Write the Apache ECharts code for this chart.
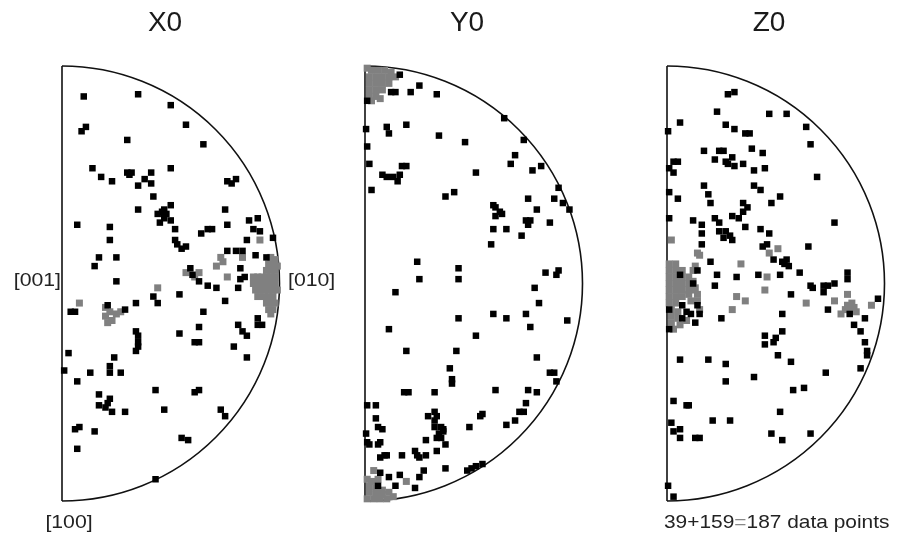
<!DOCTYPE html>
<html>
<head>
<meta charset="utf-8">
<script src="https://cdn.jsdelivr.net/npm/echarts@6/dist/echarts.min.js"></script>
<style>
  html, body { margin: 0; padding: 0; background: #fff; }
  #chart { width: 898px; height: 548px; }
</style>
</head>
<body>
<div id="chart"></div>
<script>
// Pole figures in the equal-area half disc: x = 0..100 (right), y = -100..100 (up), radius 100.
const panelTitles = ['X0', 'Y0', 'Z0'];

const blackX0 = [
  [10,86],[35,87],[50,82],[57,73],[11,72],[9,70],[30,66],[65,64],[14,53],[50,53],[30,51],[32,51],[31,50],
  [18,49],[23,47],[41,51],[38,48],[41,46],[35,45],[42,40],[76,47],[80,48],[78,46],[50,36],[47,34],[35,34],[75,34],
  [44,32],[46,33],[47,30],[50,29],[45,28],[48,32],[7,27],[22,26],[76,27],[86,29],[90,30],[88,25],[91,24],[52,25],
  [64,23],[67,25],[69,25],[22,20],[52,20],[53,18],[55,16],[57,17],[85,20],[97,21],[17,12],[25,12],[76,15],[80,15],
  [83,15],[89,13],[94,12],[15,8],[59,7],[60,4],[82,7],[84,3],[82,2],[63,1],[67,-1],[71,-2],[81,-2],[25,1],[54,-5],
  [42,-6],[44,-9],[75,-8],[34,-9],[4,-13],[6,-13],[21,-10],[29,-12],[65,-13],[90,-16],[92,-19],[90,-19],[63,-20],
  [81,-19],[83,-22],[85,-24],[54,-23],[61,-27],[63,-27],[34,-22],[35,-24],[35,-27],[35,-29],[34,-31],[79,-29],[3,-32],
  [24,-34],[85,-34],[1,-40],[13,-41],[22,-38],[22,-41],[27,-41],[7,-45],[43,-49],[61,-50],[63,-49],[17,-51],[22,-53],
  [21,-55],[17,-56],[20,-57],[23,-59],[29,-59],[47,-58],[73,-58],[75,-61],[6,-67],[8,-66],[15,-68],[55,-71],[58,-72],
  [7,-76],[43,-90]
];
const greyX0 = [
  [91,20],[73,12],[71,8],[74,10],[83,12],[57,5],[63,5],[61,3],[76,3],[44,-2],[8,-9],
  [20,-11],[22,-13],[25,-14],[20,-15],[23,-17],[27,-13],[21,-18],
  [96,12],[98,11],[95,9],[97,9],[99,8],[94,6],[96,6],[98,6],
  [88,3],[90,3],[92,3],[94,3],[96,3],[98,3],[88,0],[90,0],[92,0],[94,0],[96,0],[98,0],
  [89,-3],[91,-3],[93,-3],[95,-3],[97,-3],[99,-3],[90,-6],[93,-6],[95,-6],[97,-6],
  [94,-9],[96,-9],[98,-9],[95,-12],[97,-12],[96,-14]
];

const blackY0 = [
  [16,96],[12,88],[14,88],[25,91],[21,88],[33,87],[1,84],[64,76],[0.5,71],[10,72],[11,69],[19,73],[34,68],[46,65],
  [73,66],[1,63],[69,59],[67,55],[2,55],[17,54],[19,54],[81,54],[77,52],[51,51],[8,50],[10,49],[13,49],[15,47],
  [16,50],[3,43],[37,40],[41,42],[89,44],[75,39],[87,39],[91,37],[94,34],[59,36],[60,35],[79,34],
  [60,31],[63,32],[62,33],[74,29],[76,29],[75,27],[85,28],[59,25],[65,25],[72,22],[58,18],[24,10],[43,7],[25,2],
  [43,2],[83,5],[89,6],[88,4],[14,-4],[78,-2],[80,-9],[59,-14],[65,-16],[74,-14],[76,-20],[93,-17],[43,-16],
  [11,-21],[51,-24],[19,-31],[42,-31],
  [79,-34],[39,-39],[85,-41],[87,-41],[88,-45],[40,-44],[40,-46],[18,-50],[20,-50],[32,-50],[60,-49],[75,-49],
  [79,-50],[1,-56],[5,-56],[74,-55],[71,-59],[73,-59],[32,-59],[29,-61],[33,-61],[32,-63],[54,-60],[53,-61],
  [69,-63],[65,-65],[5,-62],[6,-66],[8,-67],[32,-66],[35,-66],[36,-68],[34,-69],[33,-71],[35,-71],[36,-67],
  [48,-66],[0.5,-69],[1,-73],[2,-74],[7,-73],[6,-74],[28,-72],[37,-74],[33,-77],[7,-80],[9,-79],[10,-79],
  [17,-79],[23,-77],[24,-79],[25,-80],[28,-79],[37,-85],[27,-86],[47,-86],[49,-85],[51,-84],[54,-83],[7,-87],
  [11,-89],[16,-88],[25,-89],[6,-93],[14,-93],[23,-94]
];
const greyY0 = [
  [1,99],[3,98],[6,98],[9,98],[12,97],[2,95],[5,95],[8,95],[11,95],[14,95],[2,92],[5,92],[8,92],[11,92],
  [2,89],[5,89],[8,89],[2,86],[5,86],[3,84],[7,85],
  [4,-86],[19,-91],[1,-90],[3,-91],[6,-90],[2,-93],[5,-94],[8,-95],[2,-96],[5,-97],[8,-97],[11,-96],
  [1,-99],[4,-99],[7,-99],[10,-99],[13,-98]
];

const blackZ0 = [
  [28,87],[31,88],[23,79],[47,78],[55,78],[6,74],[27,73],[31,71],[64,72],[0.5,70],[36,69],[38,69],[66,64],[39,62],
  [17,61],[24,61],[26,61],[44,60],[3,56],[5,56],[22,57],[27,56],[28,55],[30,58],[31,54],[35,55],[40,52],[45,53],
  [1,53],[3,51],[69,49],[17,45],[40,45],[43,43],[1,42],[5,39],[19,41],[20,37],[52,40],[48,37],[35,37],[37,35],
  [35,33],[1,30],[12,29],[16,27],[22,30],[24,28],[30,31],[33,30],[36,26],[43,25],[47,23],[77,28],[16,23],[24,24],
  [27,24],[26,21],[29,22],[30,20],[16,18],[44,17],[46,18],[65,17],[49,11],[53,10],[55,11],[56,8],[54,9],[20,10],
  [14,6],[23,4],[32,3],[42,4],[52,4],[61,5],[83,5],[83,2],[77,0],[22,-1],[12,0],[66,-1],[67,-2],[72,-1],[74,-1],
  [72,-4],[57,-5],[97,-7],[74,-12],[84,-14],[91,-16],[86,-19],[89,-22],[91,-27],[92,-31],[92,-33],[53,-14],
  [25,-16],[15,-14],[7,-16],[13,-18],[1,-21],[53,-22],[50,-25],[49,-27],[45,-24],[45,-28],[6,4],[7,-10],[9,-13],
  [14,-10],[11,-14],[1,-12],
  [6,-35],[19,-35],[27,-37],[27,-45],[40,-43],[51,-33],[57,-36],[73,-41],[89,-39],[58,-49],[63,-48],[3,-54],
  [9,-56],[10,-56],[52,-59],[2,-64],[21,-63],[29,-63],[3,-68],[6,-67],[6,-71],[13,-71],[15,-71],[48,-69],
  [53,-72],[66,-69],[0.5,-93],[3,-98]
];
const greyZ0 = [
  [2,20],[14,14],[15,13],[51,16],[47,14],[34,9],[13,8],[12,6],[46,3],[45,-3],[32,-6],[36,-8],[30,-12],[14,-8],
  [15,-12],[64,-9],[77,-8],[83,-5],[94,-10],[80,-14],[83,-10],[85,-9],[86,-11],[84,-12],[87,-13],[82,-12],
  [1,9],[4,9],[1,6],[4,6],[7,6],[1,3],[4,3],[7,3],[10,3],[1,0],[4,0],[7,0],[10,0],[12,1],[1,-3],[4,-3],[7,-3],
  [10,-3],[12,-3],[1,-6],[4,-6],[7,-6],[10,-5],[1,-9],[4,-9],[2,-12],[5,-13],[2,-15],[5,-16],[2,-18],[3,-21],
  [6,-19],[9,-17],[11,-8],[14,-5],[13,-2]
];

const blackSets = [blackX0, blackY0, blackZ0];
const greySets = [greyX0, greyY0, greyZ0];

const FONT = '"Liberation Sans", Arial, sans-serif';
const R = 217.5;                 // half-disc radius in pixels
const panelLeft = [62, 365, 667];
const panelTop = 66;

const chart = echarts.init(document.getElementById('chart'), null, { renderer: 'canvas' });

const grids = [], xAxes = [], yAxes = [], series = [];
panelLeft.forEach((left, i) => {
  grids.push({ left: left, top: panelTop, width: R, height: 2 * R });
  xAxes.push({ gridIndex: i, type: 'value', min: 0, max: 100, show: false });
  yAxes.push({ gridIndex: i, type: 'value', min: -100, max: 100, show: false });

  // half-circle frame: arc on the right plus the straight diameter on the left
  series.push({
    type: 'custom', xAxisIndex: i, yAxisIndex: i, silent: true, clip: false,
    data: [[0, 0]],
    renderItem: function (params, api) {
      const c = api.coord([0, 0]);
      const top = api.coord([0, 100]);
      const bot = api.coord([0, -100]);
      const r = c[1] - top[1];
      return {
        type: 'group',
        children: [
          { type: 'arc', shape: { cx: c[0], cy: c[1], r: r, startAngle: -Math.PI / 2, endAngle: Math.PI / 2, clockwise: true },
            style: { stroke: '#111', fill: null, lineWidth: 1.6 } },
          { type: 'line', shape: { x1: top[0], y1: top[1], x2: bot[0], y2: bot[1] },
            style: { stroke: '#111', lineWidth: 1.6 } }
        ]
      };
    }
  });
  series.push({
    type: 'scatter', xAxisIndex: i, yAxisIndex: i, clip: false, silent: true,
    symbol: 'rect', symbolSize: 7, data: greySets[i],
    itemStyle: { color: '#808080', opacity: 1 }
  });
  series.push({
    type: 'scatter', xAxisIndex: i, yAxisIndex: i, clip: false, silent: true,
    symbol: 'rect', symbolSize: 6.5, data: blackSets[i],
    itemStyle: { color: '#000000', opacity: 1 }
  });
});

const titleCenters = [165, 467, 769];
const graphics = panelTitles.map((t, i) => ({
  type: 'text', x: titleCenters[i], y: 23,
  style: { text: t, font: '28px ' + FONT, fill: '#1a1a1a', textAlign: 'center', textVerticalAlign: 'middle' }
}));
graphics.push(
  { type: 'text', x: 61, y: 281, scaleX: 1.18,
    style: { text: '[001]', font: '18px ' + FONT, fill: '#222', textAlign: 'right', textVerticalAlign: 'middle' } },
  { type: 'text', x: 288, y: 281, scaleX: 1.18,
    style: { text: '[010]', font: '18px ' + FONT, fill: '#222', textAlign: 'left', textVerticalAlign: 'middle' } },
  { type: 'text', x: 69, y: 523, scaleX: 1.18,
    style: { text: '[100]', font: '18px ' + FONT, fill: '#222', textAlign: 'center', textVerticalAlign: 'middle' } },
  { type: 'text', x: 664, y: 523, scaleX: 1.1, style: {
      text: '{a|39+159}{b|=}{a|187 data points}', textAlign: 'left', textVerticalAlign: 'middle',
      rich: { a: { font: '19px ' + FONT, fill: '#222' }, b: { font: '19px ' + FONT, fill: '#888' } } } }
);

chart.setOption({
  animation: false,
  backgroundColor: '#ffffff',
  grid: grids,
  xAxis: xAxes,
  yAxis: yAxes,
  series: series,
  graphic: graphics
});
</script>
</body>
</html>
